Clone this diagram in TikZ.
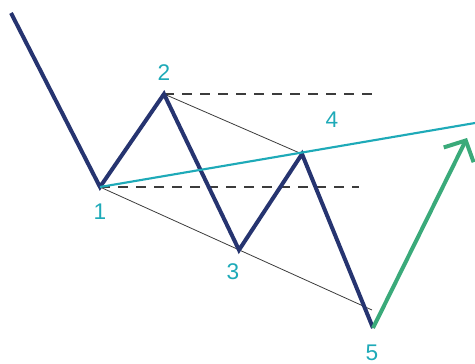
\documentclass[tikz,border=0pt]{standalone}
\usepackage{fontspec}
\setmainfont{Liberation Sans}
\usetikzlibrary{arrows.meta}
\definecolor{wavecolor0001}{RGB}{38,52,112}
\definecolor{wavecolor0002}{RGB}{30,170,184}
\definecolor{wavecolor0003}{RGB}{58,170,122}
\definecolor{wavecolor0004}{RGB}{60,60,60}

\begin{document}
\begin{tikzpicture}[x=0.75pt,y=0.75pt,yscale=-1
,wstyle0/.style={color=wavecolor0001,line width=3pt,line join=miter}
,wstyle1/.style={color=wavecolor0002,line width=1.6pt}
,wstyle2/.style={color=wavecolor0004,line width=0.6pt}
,wstyle3/.style={color=wavecolor0004,line width=1pt,dash pattern=on 7.5pt off 6pt}
,wstyle4/.style={color=wavecolor0003,line width=3pt,-{Straight Barb[length=12pt,width=25pt,line width=3pt]}}
,wlabel/.style={color=wavecolor0002,inner sep=0,font=\fontsize{17}{19}\selectfont}
]
\useasboundingbox (0,0) rectangle (475,364);
\coordinate (start) at (11,13);
\coordinate (p1) at (100,187);
\coordinate (p2) at (164,94);
\coordinate (p3) at (239,250);
\coordinate (p4) at (302,154);
\coordinate (p5) at (373,328);
\coordinate (top end) at (374,94);
\coordinate (low end) at (359,187);
\coordinate (chan end) at (372,310);
\coordinate (trend end) at (475,123);
\coordinate (target) at (467,138);
\draw[wstyle3] (p2) -- (top end);
\draw[wstyle3] (p1) -- (low end);
\draw[wstyle2] (p2) -- (p4);
\draw[wstyle2] (p1) -- (chan end);
\draw[wstyle0] (start) -- (p1) -- (p2) -- (p3) -- (p4) -- (p5);
\draw[wstyle1] (p1) -- (trend end);
\draw[wstyle4] (p5) -- (target);
\node[wlabel] (n1) at (100,212) {1};
\node[wlabel] (n2) at (164,73) {2};
\node[wlabel] (n3) at (233,272) {3};
\node[wlabel] (n4) at (332,120) {4};
\node[wlabel] (n5) at (372,353) {5};
\end{tikzpicture}
\end{document}
